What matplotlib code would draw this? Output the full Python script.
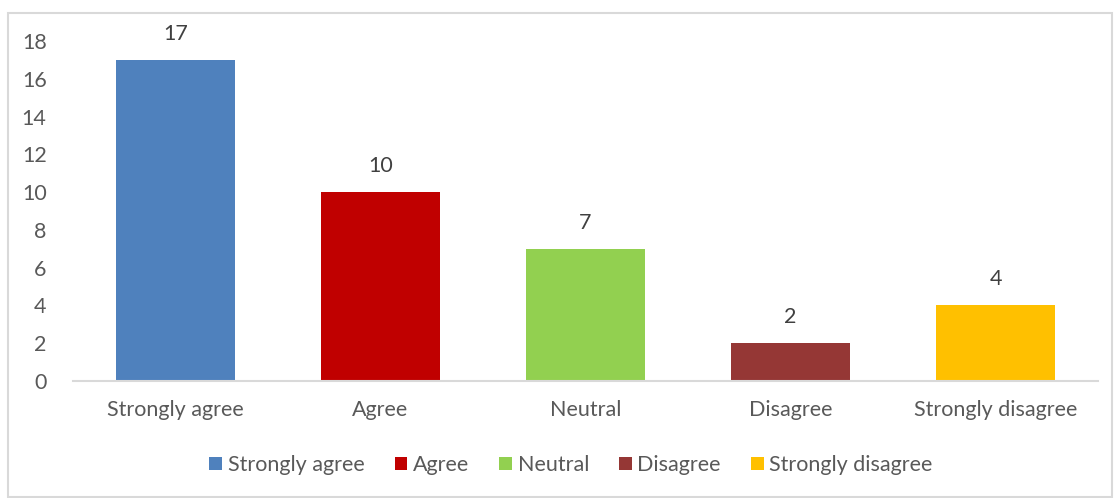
import matplotlib.pyplot as plt
from matplotlib.patches import Rectangle, Patch

# data
categories = ['Strongly agree', 'Agree', 'Neutral', 'Disagree', 'Strongly disagree']
counts = [17, 10, 7, 2, 4]
colors = ['#4f81bd', '#c00000', '#92d050', '#953735', '#ffc000']
yticks = [0, 2, 4, 6, 8, 10, 12, 14, 16, 18]

plt.rcParams['font.family'] = ['Lato', 'DejaVu Sans']
grey = '#595959'

fig = plt.figure(figsize=(11.15, 4.98), dpi=100)
ax = fig.add_axes([73 / 1115, 1 - 381 / 498, 1025 / 1115, 340 / 498])

x = list(range(len(categories)))
bars = ax.bar(x, counts, width=0.576, color=colors)
for xi, v in zip(x, counts):
    ax.text(xi, v + 0.85, str(v), ha='center', va='bottom', fontsize=15.5, color='#404040')

ax.set_xlim(-0.5, len(categories) - 0.5)
ax.set_ylim(0, 18)
ax.set_yticks(yticks)
ax.set_xticks(x)
ax.set_xticklabels(categories)
ax.tick_params(axis='both', length=0, labelsize=15.5, labelcolor=grey)
ax.tick_params(axis='x', pad=14)
ax.tick_params(axis='y', pad=19)
for s in ['top', 'right', 'left']:
    ax.spines[s].set_visible(False)
ax.spines['bottom'].set_color('#d9d9d9')
ax.spines['bottom'].set_linewidth(1.5)

handles = [Patch(facecolor=c, label=l) for c, l in zip(colors, categories)]
fig.legend(handles=handles, loc='center', bbox_to_anchor=(571 / 1115, 1 - 465 / 498),
           ncol=5, frameon=False, fontsize=15.5, labelcolor=grey,
           handlelength=0.6, handleheight=0.6, handletextpad=0.25, columnspacing=1.4)

# chart border
fig.patches.append(Rectangle((8 / 1115, 0.002), 1104 / 1115, 1 - 13 / 498 - 0.002,
                             transform=fig.transFigure, fill=False,
                             edgecolor='#d9d9d9', linewidth=1.5))

fig.savefig('out.png', dpi=100)
